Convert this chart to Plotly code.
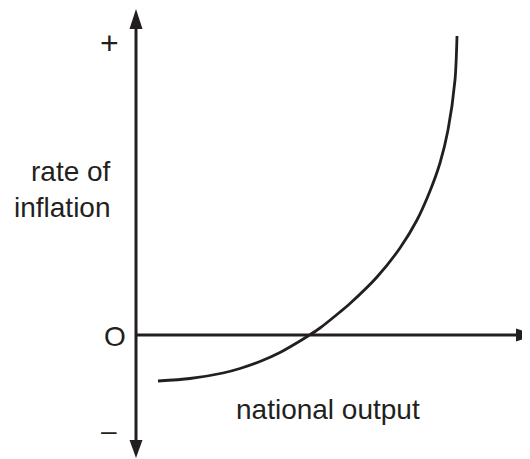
import plotly.graph_objects as go

# Curve values (national output vs rate of inflation)
output_vals = [22, 54, 87, 104, 124, 144, 164, 172, 184, 204, 214, 241, 264, 281, 294, 304, 312, 319, 321]
inflation_vals = [-46, -43.5, -38, -33.5, -26.5, -17.5, -6, -1, 7, 23, 31.5, 58, 87, 115, 144, 172, 205, 255, 299]

# Axis labels
y_label_lines = ["rate of", "inflation"]
x_label = "national output"
plus_label, origin_label, minus_label = "+", "O", "–"

INK = "#231f20"
FONT = "Liberation Sans, Arial, sans-serif"
FS = 28

fig = go.Figure()
fig.add_trace(go.Scatter(
    x=output_vals, y=inflation_vals, mode="lines",
    line=dict(color=INK, width=2.8, shape="spline", smoothing=0.8),
    hoverinfo="skip", showlegend=False,
))

shapes = [
    # vertical axis
    dict(type="line", x0=0, x1=0, y0=-105, y1=306, line=dict(color=INK, width=3)),
    # horizontal axis
    dict(type="line", x0=0, x1=382, y0=0, y1=0, line=dict(color=INK, width=3)),
    # arrowheads
    dict(type="path", path="M -6.5 306 L 6.5 306 L 0 326 Z", fillcolor=INK, line=dict(width=0)),
    dict(type="path", path="M -6.5 -105 L 6.5 -105 L 0 -123 Z", fillcolor=INK, line=dict(width=0)),
    dict(type="path", path="M 380 -6.5 L 380 6.5 L 400 0 Z", fillcolor=INK, line=dict(width=0)),
]

ann_font = dict(family=FONT, size=FS, color=INK)
plus_font = dict(family=FONT, size=32, color=INK)
annotations = [
    dict(x=-27, y=292, text=plus_label, showarrow=False, xanchor="center", yanchor="middle", font=plus_font),
    dict(x=-21.5, y=-1.5, text=origin_label, showarrow=False, xanchor="center", yanchor="middle", font=ann_font),
    dict(x=-27, y=-95, text=minus_label, showarrow=False, xanchor="center", yanchor="middle", font=ann_font),
    dict(x=-23, y=164, text=y_label_lines[0], showarrow=False, xanchor="right", yanchor="middle", font=ann_font),
    dict(x=-23, y=128, text=y_label_lines[1], showarrow=False, xanchor="right", yanchor="middle", font=ann_font),
    dict(x=192, y=-74, text=x_label, showarrow=False, xanchor="center", yanchor="middle", font=ann_font),
]

# The page body has an 8px margin, so the figure is sized to fit the window
fig.update_layout(
    width=522, height=451,
    margin=dict(l=0, r=0, t=0, b=0),
    paper_bgcolor="white", plot_bgcolor="white",
    xaxis=dict(range=[-128, 394], visible=False, fixedrange=True),
    yaxis=dict(range=[-124, 327], visible=False, fixedrange=True),
    shapes=shapes, annotations=annotations,
    showlegend=False,
)

fig.write_html("out.html", config={"displayModeBar": False})
